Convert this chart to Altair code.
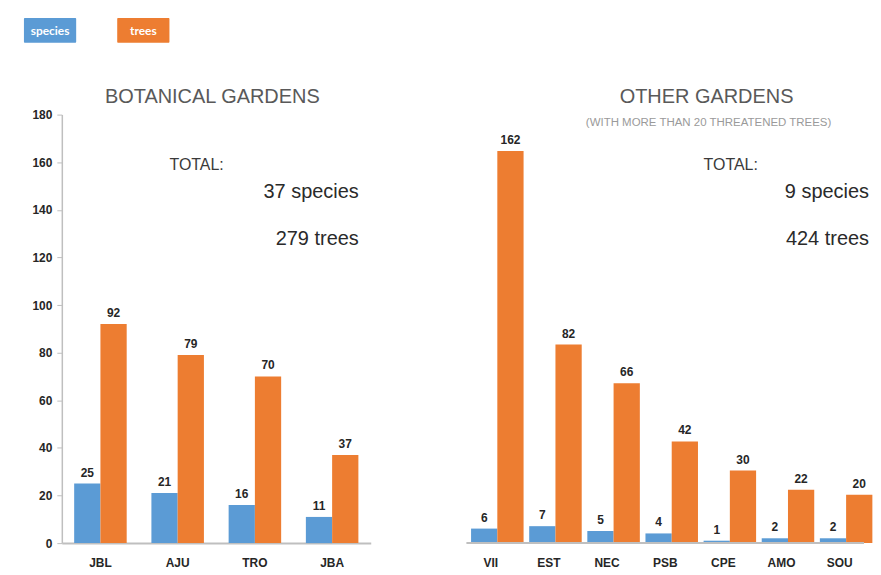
import altair as alt
import pandas as pd

# ---------------- data ----------------
series = ["species", "trees"]
series_colors = ["#5B9BD5", "#ED7D31"]

bg_sites = ["JBL", "AJU", "TRO", "JBA"]
bg_species = [25, 21, 16, 11]
bg_trees = [92, 79, 70, 37]

og_sites = ["VII", "EST", "NEC", "PSB", "CPE", "AMO", "SOU"]
og_species = [6, 7, 5, 4, 1, 2, 2]
og_trees = [162, 82, 66, 42, 30, 22, 20]

y_ticks = [0, 20, 40, 60, 80, 100, 120, 140, 160, 180]

bg_title = "BOTANICAL GARDENS"
og_title = "OTHER GARDENS"
og_subtitle = "(WITH MORE THAN 20 THREATENED TREES)"
total_label = "TOTAL:"
bg_totals = ["37 species", "279 trees"]
og_totals = ["9 species", "424 trees"]

# ---------------- styling ----------------
FONT = "Liberation Sans, Arial, sans-serif"
H = 430
AXIS_GREY = "#BFBFBF"
DARK = "#262626"

color_scale = alt.Scale(domain=series, range=series_colors)


def long_df(sites, sp, tr):
    rows = []
    for s, a, b in zip(sites, sp, tr):
        rows.append({"site": s, "series": series[0], "value": a})
        rows.append({"site": s, "series": series[1], "value": b})
    return pd.DataFrame(rows)


def panel(sites, sp, tr, width, y_max, show_y, title, subtitle,
          title_x, totals, totals_x, total_lbl_x, pad_outer):
    df = long_df(sites, sp, tr)
    x_scale = alt.Scale(domain=sites, paddingInner=0.32, paddingOuter=pad_outer)
    y_scale = alt.Scale(domain=[0, y_max], nice=False, zero=True)
    if show_y:
        y_axis = alt.Axis(values=y_ticks, title=None, grid=False, labelFont=FONT,
                          labelFontWeight="bold", labelFontSize=12, labelColor=DARK,
                          domainColor=AXIS_GREY, domainWidth=1.5, tickColor=AXIS_GREY,
                          tickSize=5, labelPadding=5)
    else:
        y_axis = None
    x_axis = alt.Axis(title=None, labelAngle=0, ticks=False, domain=show_y,
                      domainColor=AXIS_GREY, domainWidth=2, labelFont=FONT,
                      labelFontWeight="bold", labelFontSize=12, labelColor=DARK,
                      labelPadding=14)

    base = alt.Chart(df).encode(
        x=alt.X("site:N", sort=sites, scale=x_scale, axis=x_axis),
        xOffset=alt.XOffset("series:N", sort=series,
                            scale=alt.Scale(paddingInner=0, paddingOuter=0)),
        y=alt.Y("value:Q", scale=y_scale, axis=y_axis),
    )
    bars = base.mark_bar().encode(
        color=alt.Color("series:N", scale=color_scale, legend=None)
    )
    labels = base.mark_text(dy=-7, baseline="alphabetic", font=FONT,
                            fontWeight="bold", fontSize=12, color=DARK).encode(
        text="value:Q"
    )
    layers = [bars, labels]
    if not show_y:
        baseline = alt.Chart(pd.DataFrame({"v": [0]})).mark_rule(
            color=AXIS_GREY, strokeWidth=2).encode(
            y=alt.Y("v:Q", scale=y_scale, axis=None),
            x=alt.value(0), x2=alt.value(width))
        layers.append(baseline)

    ttl = alt.Chart(pd.DataFrame({"t": [title]})).mark_text(
        font=FONT, fontSize=20, color="#595959", align="center",
        baseline="alphabetic").encode(text="t:N", x=alt.value(title_x), y=alt.value(-12))
    layers.append(ttl)
    if subtitle:
        sub = alt.Chart(pd.DataFrame({"t": [subtitle]})).mark_text(
            font=FONT, fontSize=11.5, color="#9A9A9A", align="center",
            baseline="alphabetic").encode(text="t:N", x=alt.value(title_x + 2), y=alt.value(11))
        layers.append(sub)
    tot = alt.Chart(pd.DataFrame({"t": [total_label]})).mark_text(
        font=FONT, fontSize=16, color="#3A3A3A", align="left",
        baseline="alphabetic").encode(text="t:N", x=alt.value(total_lbl_x), y=alt.value(56))
    layers.append(tot)
    for txt, yy in zip(totals, [84, 131]):
        layers.append(alt.Chart(pd.DataFrame({"t": [txt]})).mark_text(
            font=FONT, fontSize=20, color="#2A2A2A", align="right",
            baseline="alphabetic").encode(text="t:N", x=alt.value(totals_x), y=alt.value(yy)))

    return alt.layer(*layers).properties(width=width, height=H)


left = panel(bg_sites, bg_species, bg_trees, 310, 180, True,
             bg_title, None, 151, bg_totals, 298, 108, 0.16)
right = panel(og_sites, og_species, og_trees, 399, 177, False,
              og_title, og_subtitle, 241, og_totals, 404, 238, 0.08)

# legend boxes
leg_df = pd.DataFrame({"series": series})
leg_x = alt.X("series:N", sort=series, axis=None,
              scale=alt.Scale(range=[-38, 108], paddingInner=0.44, paddingOuter=0))
legend = alt.layer(
    alt.Chart(leg_df).mark_bar(cornerRadius=1).encode(
        x=leg_x, color=alt.Color("series:N", scale=color_scale, legend=None),
        y=alt.value(0), y2=alt.value(25)),
    alt.Chart(leg_df).mark_text(font="Lato, Open Sans, sans-serif", fontSize=12,
                                fontWeight="bold", color="white").encode(
        x=leg_x, text="series:N", y=alt.value(13)),
).properties(width=100, height=25)

chart = alt.vconcat(
    legend,
    alt.hconcat(left, right, spacing=95),
    spacing=44,
).properties(padding={"left": 16, "top": 9, "right": 0, "bottom": 0}).configure_view(
    stroke=None
)

chart.save("out.html", embed_options={"renderer": "svg", "actions": False})
